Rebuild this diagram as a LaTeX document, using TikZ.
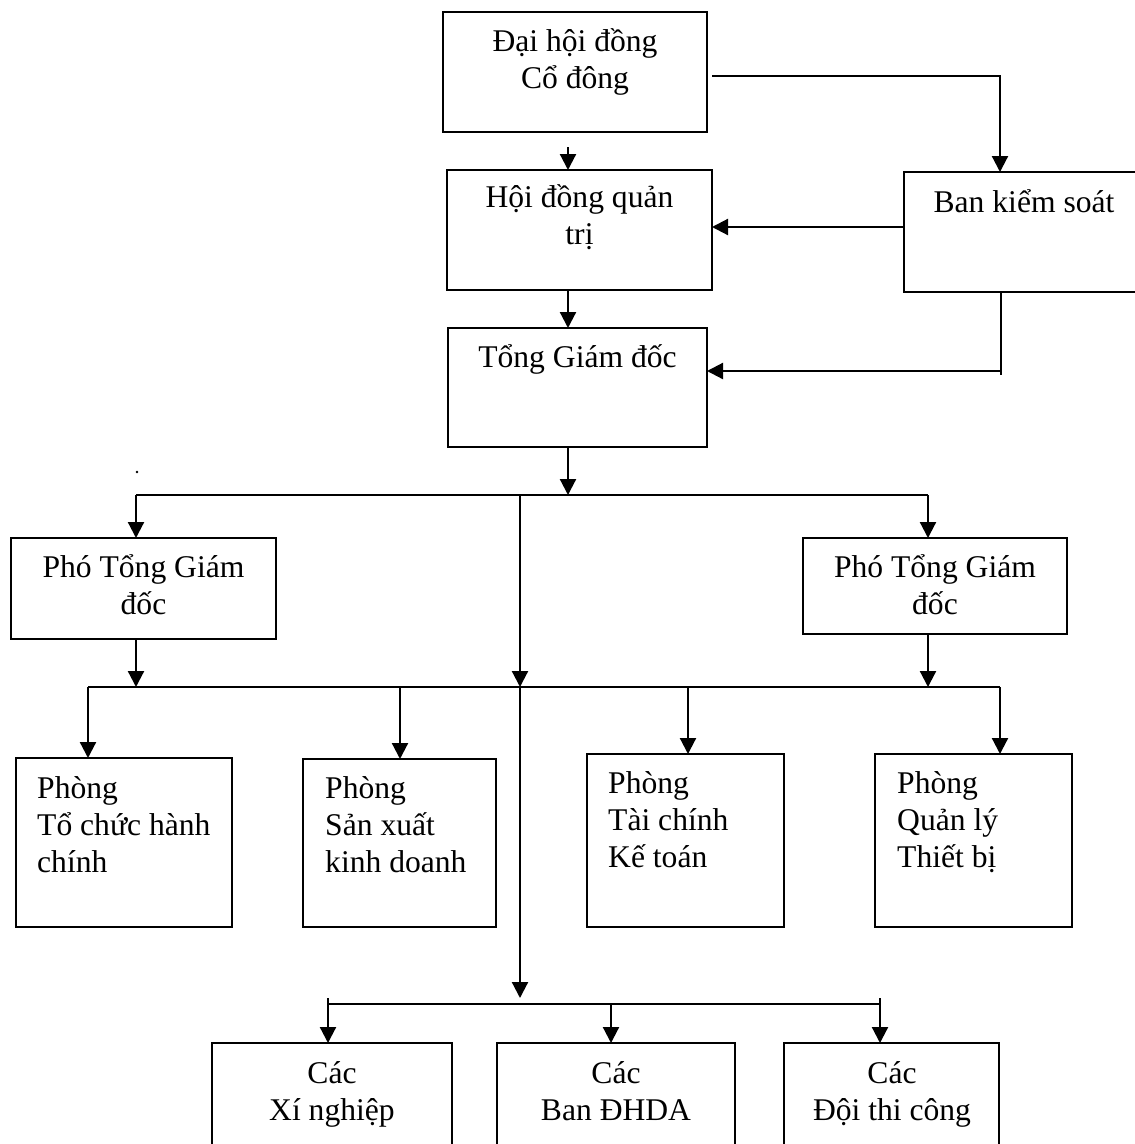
\documentclass[tikz,border=0pt]{standalone}
\usepackage{fontspec}
\setmainfont{Liberation Serif}
\usetikzlibrary{arrows.meta}
\begin{document}
\begin{tikzpicture}[x=1pt,y=-1pt,
  box/.style={draw, line width=2pt, anchor=north west, inner sep=0pt, outer sep=0pt},
  txt/.style={font=\fontsize{31.6}{37}\selectfont, inner sep=0pt},
  ltxt/.style={txt, anchor=base west, align=left},
  ctxt/.style={txt, anchor=base, align=center},
  conn/.style={line width=2.2pt},
  arr/.style={conn, -{Triangle[length=16pt,width=16pt]}}]
\useasboundingbox (0,0) rectangle (1135,1144);
% boxes
\node[box, minimum width=264pt, minimum height=120pt] (dh) at (443,12) {};
\node[box, minimum width=265pt, minimum height=120pt] (hd) at (447,170) {};
\node[box, minimum width=240pt, minimum height=120pt] (bks) at (904,172) {};
\node[box, minimum width=259pt, minimum height=119pt] (tgd) at (448,328) {};
\node[box, minimum width=265pt, minimum height=101pt] (p1) at (11,538) {};
\node[box, minimum width=264pt, minimum height=96pt] (p2) at (803,538) {};
\node[box, minimum width=216pt, minimum height=169pt] (r1) at (16,758) {};
\node[box, minimum width=193pt, minimum height=168pt] (r2) at (303,759) {};
\node[box, minimum width=197pt, minimum height=173pt] (r3) at (587,754) {};
\node[box, minimum width=197pt, minimum height=173pt] (r4) at (875,754) {};
\node[box, minimum width=240pt, minimum height=120pt] (b1) at (212,1043) {};
\node[box, minimum width=238pt, minimum height=120pt] (b2) at (497,1043) {};
\node[box, minimum width=215pt, minimum height=120pt] (b3) at (784,1043) {};
% texts (anchor = baseline of last line)
\node[ctxt] (dht) at (575,88) {Đại hội đồng\\Cổ đông};
\node[ctxt] (hdt) at (579.5,244) {Hội đồng quản\\trị};
\node[ctxt] (bkst) at (1024,212) {Ban kiểm soát};
\node[ctxt] (tgdt) at (577.5,367) {Tổng Giám đốc};
\node[ctxt] (p1t) at (143.5,614) {Phó Tổng Giám\\đốc};
\node[ctxt] (p2t) at (935,614) {Phó Tổng Giám\\đốc};
\node[ltxt] (r1t) at (37,872) {Phòng\\Tổ chức hành\\chính};
\node[ltxt] (r2t) at (325,872) {Phòng\\Sản xuất\\kinh doanh};
\node[ltxt] (r3t) at (608,867) {Phòng\\Tài chính\\Kế toán};
\node[ltxt] (r4t) at (897,867) {Phòng\\Quản lý\\Thiết bị};
\node[ctxt] (b1t) at (332,1120) {Các\\Xí nghiệp};
\node[ctxt] (b2t) at (616,1120) {Các\\Ban ĐHDA};
\node[ctxt] (b3t) at (892,1120) {Các\\Đội thi công};
% stray dot
\fill (137,472) circle (1.3pt);
% top connectors
\coordinate (a1) at (568,147);
\draw[arr] (a1) -- (a1 |- hd.north);
\draw[arr] (hd.south -| a1) -- (tgd.north -| a1);
\coordinate (e0) at (712,76);
\coordinate (e1) at (1000,76);
\draw[arr] (e0) -- (e1) -- (e1 |- bks.north);
\coordinate (f1) at (904,227);
\draw[arr] (f1) -- (f1 -| hd.east);
\coordinate (g1) at (1001,375);
\coordinate (g2) at (1001,371);
\draw[conn] (bks.south -| g1) -- (g1);
\draw[arr] (g2) -- (g2 -| tgd.east);
% first bus
\coordinate (j1) at (568,495);
\coordinate (bus1L) at (136,495);
\coordinate (bus1R) at (928,495);
\draw[arr] (tgd.south -| j1) -- (j1);
\draw[conn] (bus1L) -- (bus1R);
\draw[arr] (bus1L) -- (bus1L |- p1.north);
\draw[arr] (bus1R) -- (bus1R |- p2.north);
% trunk
\coordinate (t0) at (520,495);
\coordinate (t1) at (520,687);
\coordinate (t2) at (520,998);
\draw[arr] (t0) -- (t1);
\draw[arr] (t1) -- (t2);
% second bus
\coordinate (bus2L) at (88,687);
\coordinate (bus2R) at (1000,687);
\draw[conn] (bus2L) -- (bus2R);
\draw[arr] (p1.south -| bus1L) -- (bus1L |- bus2L);
\draw[arr] (p2.south -| bus1R) -- (bus1R |- bus2L);
\coordinate (k2) at (400,687);
\coordinate (k3) at (688,687);
\draw[arr] (bus2L) -- (bus2L |- r1.north);
\draw[arr] (k2) -- (k2 |- r2.north);
\draw[arr] (k3) -- (k3 |- r3.north);
\draw[arr] (bus2R) -- (bus2R |- r4.north);
% third bus
\coordinate (bus3L) at (328,1004);
\coordinate (bus3R) at (880,1004);
\draw[conn] (bus3L) -- (bus3R);
\coordinate (m1) at (328,998);
\coordinate (m2) at (611,1004);
\coordinate (m3) at (880,998);
\draw[arr] (m1) -- (m1 |- b1.north);
\draw[arr] (m2) -- (m2 |- b2.north);
\draw[arr] (m3) -- (m3 |- b3.north);
\end{tikzpicture}
\end{document}
